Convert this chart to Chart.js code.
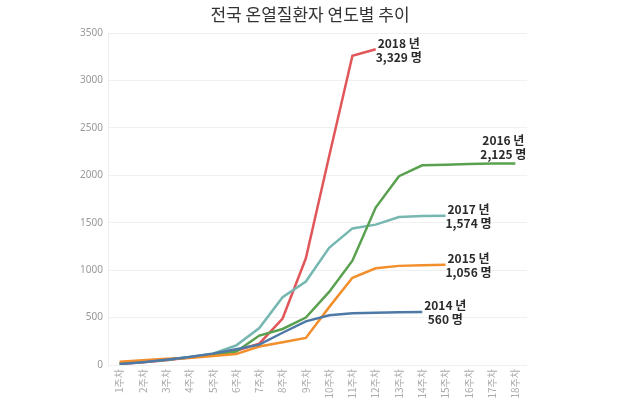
<!DOCTYPE html>
<html>
<head>
<meta charset="utf-8">
<script src="https://cdn.jsdelivr.net/npm/chart.js@4"></script>
<style>
  html, body { margin: 0; padding: 0; background: #fff; }
  #wrap { width: 630px; height: 407px; }
</style>
</head>
<body>
<div id="wrap"><canvas id="chart"></canvas></div>
<script>
// 주차
const weeks = ["1주차", "2주차", "3주차", "4주차", "5주차", "6주차", "7주차", "8주차", "9주차",
  "10주차", "11주차", "12주차", "13주차", "14주차", "15주차", "16주차", "17주차", "18주차"];

// 연도별 누적 환자 수
const y2014 = [10, 30, 55, 85, 120, 165, 215, 340, 460, 525, 545, 552, 557, 560];
const y2015 = [35, 50, 65, 75, 95, 115, 195, 240, 285, 610, 920, 1020, 1045, 1052, 1056];
const y2016 = [15, 35, 55, 80, 105, 140, 310, 380, 500, 770, 1100, 1660, 1990, 2105, 2110, 2120, 2123, 2125];
const y2017 = [20, 35, 55, 85, 120, 205, 390, 715, 880, 1235, 1440, 1480, 1560, 1570, 1574];
const y2018 = [10, 30, 50, 80, 110, 150, 225, 490, 1125, 2200, 3260, 3329];

const years = ["2014", "2015", "2016", "2017", "2018"];
const yTicks = [0, 500, 1000, 1500, 2000, 2500, 3000, 3500];

const title = "전국 온열질환자 연도별 추이";
const colors = ["#4e79a7", "#f28e2b", "#59a14f", "#76b7b2", "#e15759"];
// 끝 라벨 위치 보정 (px)
const labelOffsets = [[23, -6], [23, -6], [-12, -23], [23, -6], [23, -6]];

const series = [y2014, y2015, y2016, y2017, y2018];

const annotate = {
    id: "annotate",
    afterDraw(chart) {
        const ctx = chart.ctx;
        ctx.save();
        // 제목
        ctx.font = '17px "Noto Sans CJK KR"';
        ctx.fillStyle = "#333";
        ctx.textAlign = "center";
        ctx.textBaseline = "middle";
        ctx.fillText(title, 310, 15);
        // 끝 라벨
        ctx.font = 'bold 12px "Noto Sans CJK KR"';
        ctx.fillStyle = "#2a2a2a";
        chart.data.datasets.forEach((ds, i) => {
            const meta = chart.getDatasetMeta(i);
            const pt = meta.data[meta.data.length - 1];
            const v = ds.data[ds.data.length - 1];
            const [dx, dy] = labelOffsets[i];
            ctx.fillText(years[i] + " 년", pt.x + dx, pt.y + dy);
            ctx.fillText(v.toLocaleString("en-US") + " 명", pt.x + dx, pt.y + dy + 14);
        });
        ctx.restore();
    }
};

const ctx = document.getElementById("chart");
new Chart(ctx.getContext("2d"), {
    type: "line",
    data: {
        labels: weeks,
        datasets: series.map((d, i) => ({
            label: years[i],
            data: d,
            borderColor: colors[i],
            backgroundColor: colors[i],
            borderWidth: 2.5,
            pointRadius: 0,
            tension: 0,
            fill: false
        }))
    },
    options: {
        responsive: true,
        maintainAspectRatio: false,
        animation: false,
        layout: { padding: { left: 0, right: 103, top: 33, bottom: 0 } },
        plugins: {
            legend: { display: false },
            tooltip: { enabled: false },
            title: { display: false }
        },
        scales: {
            x: {
                offset: true,
                grid: { display: false, drawTicks: false },
                border: { display: false },
                ticks: {
                    color: "#aaa",
                    font: { family: '"Noto Sans CJK KR"', size: 10 },
                    minRotation: 90,
                    maxRotation: 90,
                    padding: 4,
                    autoSkip: false
                },
                afterFit: (s) => { s.height = 42; }
            },
            y: {
                min: 0,
                max: 3500,
                afterBuildTicks: (s) => { s.ticks = yTicks.map(v => ({ value: v })); },
                grid: { color: "#f0f0f0", drawTicks: false },
                border: { display: true, color: "#eee" },
                ticks: {
                    color: "#999",
                    font: { family: '"Noto Sans", sans-serif', size: 10 },
                    padding: 5,
                    callback: (v) => String(v)
                },
                afterFit: (s) => { s.width = 108; }
            }
        }
    },
    plugins: [annotate]
});
</script>
</body>
</html>
